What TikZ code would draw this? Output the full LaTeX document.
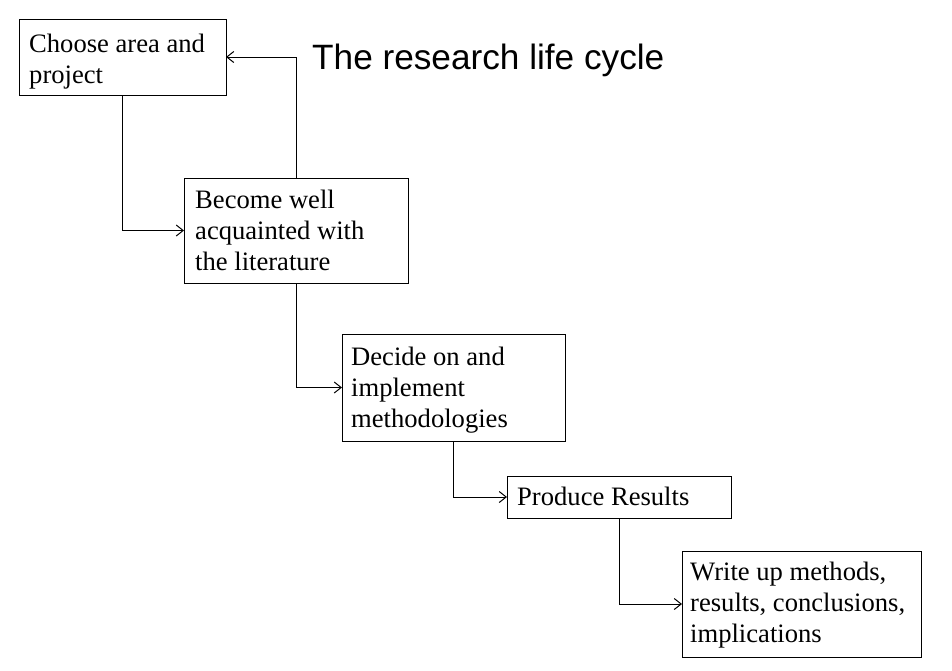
\documentclass[tikz,border=0pt]{standalone}
\usepackage{fontspec}
\setmainfont{Liberation Serif}
\newfontfamily\titlefam{Liberation Sans}
\usetikzlibrary{arrows.meta}
\newcommand{\boxlines}[1]{\begin{tabular}[t]{@{}l@{}}#1\end{tabular}}
\tikzset{
  stepbox/.style={draw=black, line width=1pt, rectangle, inner sep=0pt, outer sep=0pt},
  txt/.style={anchor=base west, inner sep=0pt, font=\fontsize{26.6}{31.2}\selectfont},
  arr/.style={draw=black, line width=1pt, -{Straight Barb[length=7pt, width=11pt, line width=1pt]}},
}
\begin{document}
\begin{tikzpicture}[x=1pt, y=-1pt]
\fill[white] (0,0) rectangle (952,670);
\useasboundingbox (0,0) rectangle (952,670);

\node[stepbox, minimum width=207pt, minimum height=76pt] (b1) at (122.5,57) {};
\node[stepbox, minimum width=224pt, minimum height=105pt] (b2) at (296,230.5) {};
\node[stepbox, minimum width=223pt, minimum height=107pt] (b3) at (453.5,387.5) {};
\node[stepbox, minimum width=224pt, minimum height=42pt] (b4) at (619,497) {};
\node[stepbox, minimum width=239pt, minimum height=106pt] (b5) at (801.5,604) {};

\node[txt] (t1) at (29,52) {\boxlines{Choose area and\\project}};
\node[txt] (t2) at (195,208.5) {\boxlines{Become well\\acquainted with\\the literature}};
\node[txt] (t3) at (351,365) {\boxlines{Decide on and\\implement\\methodologies}};
\node[txt] (t4) at (517,505) {\boxlines{Produce Results}};
\node[txt] (t5) at (690,580) {\boxlines{Write up methods,\\results, conclusions,\\implications}};

\node[anchor=base west, inner sep=0pt, font=\titlefam\fontsize{35.2}{40}\selectfont] (title) at (312,69) {The research life cycle};

\draw[arr] (b1.south) |- (b2.west);
\draw[arr] (b2.north) |- (b1.east);
\draw[arr] (b2.south) |- (b3.west);
\draw[arr] (b3.south) |- (b4.west);
\draw[arr] (b4.south) |- (b5.west);
\end{tikzpicture}
\end{document}
